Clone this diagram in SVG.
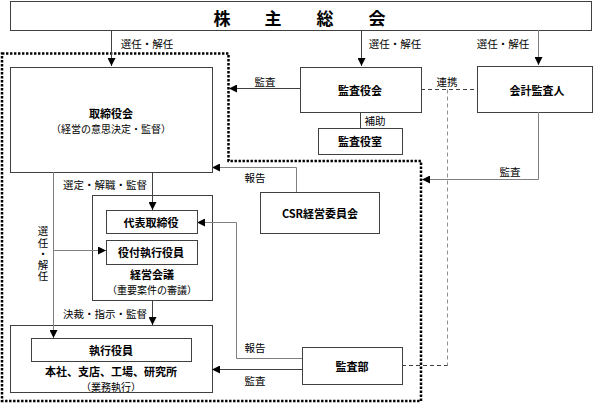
<svg xmlns="http://www.w3.org/2000/svg" width="593" height="404" viewBox="0 0 593 404">
<style>
.box{fill:#fff;stroke:#404040;stroke-width:1}
.ln{fill:none;stroke:#404040;stroke-width:1}
.gl{fill:none;stroke:#808080;stroke-width:1}
.dash{fill:none;stroke:#404040;stroke-width:1;stroke-dasharray:4 3}
.dashg{fill:none;stroke:#909090;stroke-width:1;stroke-dasharray:4 3}
.dot{fill:none;stroke:#000;stroke-width:2.5;stroke-dasharray:2.4 1.6}
text{font-family:"Noto Sans CJK JP","Noto Sans CJK SC",sans-serif;fill:#000;text-anchor:middle;dominant-baseline:central}
.t{font-size:11px;font-weight:bold}
.n{font-size:10px}
.lb{font-size:10.5px}
.big{font-size:17px;font-weight:bold}
</style>
<defs>
<marker id="ah" markerUnits="userSpaceOnUse" markerWidth="8" markerHeight="8" refX="8" refY="4" orient="auto">
<path d="M0,0 L8,4 L0,8 z" fill="#000"/>
</marker>
</defs>
<path class="dot" d="M2,53.5 H228.5 V161 H421 V401 H2 Z"/>
<g id="shareholders">
<rect class="box" x="10.5" y="1.5" width="581" height="29"/>
<text class="big" x="222 273 325 377" y="17">株主総会</text>
</g>
<g id="board">
<rect class="box" x="10.5" y="67.5" width="202" height="105"/>
<text class="t" x="111" y="113">取締役会</text>
<text class="n" x="111" y="128">（経営の意思決定・監督）</text>
</g>
<g id="auditors">
<rect class="box" x="300.5" y="67.5" width="121" height="45"/>
<text class="t" x="360" y="90">監査役会</text>
</g>
<g id="accounting-auditor">
<rect class="box" x="477.5" y="66.5" width="115" height="46"/>
<text class="t" x="537" y="90">会計監査人</text>
</g>
<g id="auditors-office">
<rect class="box" x="318.5" y="128.5" width="84" height="26"/>
<text class="t" x="360" y="141">監査役室</text>
</g>
<g id="csr">
<rect class="box" x="260.5" y="192.5" width="119" height="41"/>
<text class="t" x="320" y="213">CSR経営委員会</text>
</g>
<g id="management-council">
<rect class="box" x="92.5" y="195.5" width="120" height="105"/>
<text class="t" x="152" y="274">経営会議</text>
<text class="n" x="152" y="289">（重要案件の審議）</text>
</g>
<g id="representative-director">
<rect class="box" x="106.5" y="210.5" width="91" height="23"/>
<text class="t" x="151" y="222">代表取締役</text>
</g>
<g id="senior-officers">
<rect class="box" x="106.5" y="240.5" width="91" height="24"/>
<text class="t" x="151" y="252">役付執行役員</text>
</g>
<g id="executive">
<rect class="box" x="10.5" y="325.5" width="202" height="67"/>
<rect class="box" x="31.5" y="338.5" width="160" height="23"/>
<text class="t" x="111" y="350">執行役員</text>
<text class="t" x="111" y="371">本社、支店、工場、研究所</text>
<text class="n" x="111" y="386">（業務執行）</text>
</g>
<g id="audit-dept">
<rect class="box" x="302.5" y="347.5" width="100" height="37"/>
<text class="t" x="352" y="366">監査部</text>
</g>
<g id="connectors">
<path class="ln" d="M111.5,30 V66" marker-end="url(#ah)"/>
<path class="ln" d="M361.5,30 V66" marker-end="url(#ah)"/>
<path class="gl" d="M538.5,30 V65" marker-end="url(#ah)"/>
<path class="ln" d="M300,88.5 H229" marker-end="url(#ah)"/>
<path class="ln" d="M360.5,112 V128"/>
<path class="dash" d="M421,89.5 H477"/>
<path class="dashg" d="M447.5,89.5 V365.5"/>
<path class="dash" d="M402,365.5 H447.5"/>
<path class="gl" d="M538.5,112 V179.5 H422" marker-end="url(#ah)"/>
<path class="gl" d="M296.5,192 V167.5 H212" marker-end="url(#ah)"/>
<path class="ln" d="M152.5,172 V210" marker-end="url(#ah)"/>
<path class="gl" d="M53.5,172 V338" marker-end="url(#ah)"/>
<path class="gl" d="M53.5,250.5 H106" marker-end="url(#ah)"/>
<path class="ln" d="M152.5,300 V325" marker-end="url(#ah)"/>
<path class="gl" d="M302,358.5 H236.5 V222.5 H197" marker-end="url(#ah)"/>
<path class="ln" d="M302,369.5 H212" marker-end="url(#ah)"/>
<text class="lb" x="147" y="43">選任・解任</text>
<text class="lb" x="395" y="43">選任・解任</text>
<text class="lb" x="503" y="43">選任・解任</text>
<text class="lb" x="265" y="81">監査</text>
<text class="lb" x="447" y="81">連携</text>
<text class="lb" x="375" y="120">補助</text>
<text class="lb" x="510" y="171">監査</text>
<text class="lb" x="255" y="177">報告</text>
<text class="lb" x="105" y="184">選定・解職・監督</text>
<text class="lb" x="43 43 43 43 43" y="230 242 253 264 275">選任・解任</text>
<text class="lb" x="105" y="313">決裁・指示・監督</text>
<text class="lb" x="255" y="347">報告</text>
<text class="lb" x="255" y="380">監査</text>
</g>
</svg>
